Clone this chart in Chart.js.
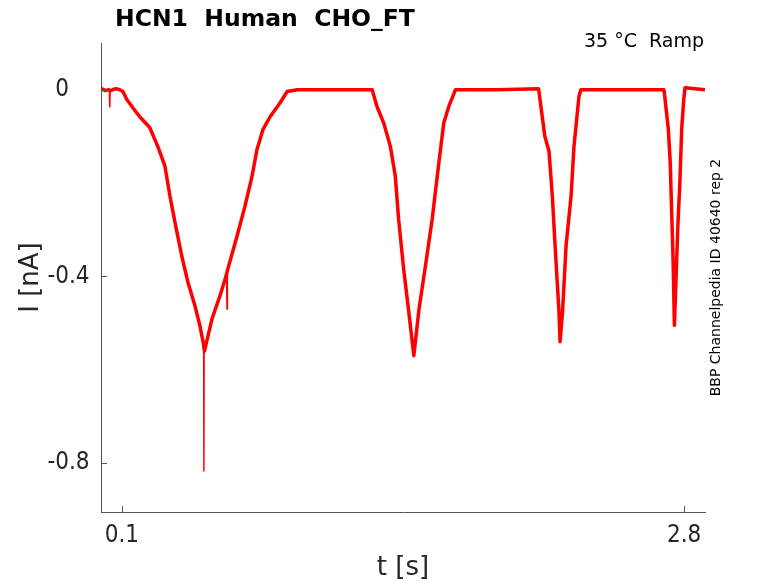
<!DOCTYPE html>
<html>
<head>
<meta charset="utf-8">
<script src="https://cdn.jsdelivr.net/npm/chart.js@4.4.1/dist/chart.umd.min.js"></script>
<style>
  html, body { margin: 0; padding: 0; background: #fff; }
</style>
</head>
<body>
<canvas id="chart" width="778" height="583"></canvas>
<script>
// trace, t in seconds, I in nA
const timeS = [
  0.000, 0.020, 0.038, 0.046, 0.070, 0.090, 0.105, 0.124, 0.155,
  0.186, 0.234, 0.273, 0.307, 0.331, 0.355, 0.388, 0.417, 0.451, 0.475,
  0.490, 0.497, 0.502, 0.533, 0.571, 0.600, 0.609, 0.653,
  0.691, 0.725, 0.749, 0.778, 0.812, 0.860, 0.894, 0.942, 1.100, 1.302,
  1.325, 1.357, 1.389, 1.413, 1.429, 1.453, 1.478, 1.502, 1.527, 1.558,
  1.590, 1.622, 1.646, 1.670, 1.702, 1.900, 2.101, 2.131, 2.151, 2.167,
  2.183, 2.199, 2.204, 2.216, 2.233, 2.257, 2.271, 2.295, 2.304, 2.500,
  2.703, 2.712, 2.724, 2.733, 2.740, 2.747, 2.753, 2.761, 2.769, 2.780,
  2.788, 2.798, 2.804, 2.900,
];
const currentNA = [
  0.003, -0.002, 0.000, -0.002, 0.002, 0.000, -0.004, -0.021, -0.040,
  -0.058, -0.081, -0.122, -0.164, -0.228, -0.284, -0.357, -0.412, -0.463, -0.506,
  -0.540, -0.560, -0.550, -0.491, -0.442, -0.400, -0.384, -0.314,
  -0.250, -0.186, -0.128, -0.085, -0.058, -0.028, -0.004, 0.000, 0.000, 0.000,
  -0.036, -0.071, -0.121, -0.185, -0.278, -0.384, -0.477, -0.570, -0.470, -0.377,
  -0.278, -0.157, -0.071, -0.036, 0.000, 0.000, 0.002, -0.100, -0.132, -0.228,
  -0.356, -0.476, -0.540, -0.476, -0.334, -0.228, -0.121, -0.014, 0.000, 0.000,
  0.000, -0.036, -0.085, -0.156, -0.263, -0.369, -0.505, -0.406, -0.299, -0.192,
  -0.085, -0.021, 0.004, 0.000,
];

// narrow single-sample artefacts, drawn thin (null breaks between them)
const spikeTimeS = [0.040, 0.042, 0.044, null, 0.493, 0.494, 0.495, null, 0.603, 0.605, 0.607];
const spikeCurrentNA = [0.000, -0.038, 0.000, null, -0.550, -0.818, -0.560, null, -0.405, -0.470, -0.395];

const xTicks = [0.1, 2.8];
const xTickLabels = ['0.1', '2.8'];
const yTicks = [0, -0.4, -0.8];
const yTickLabels = ['0', '-0.4', '-0.8'];

const TEXT_COLOR = '#262626';
const AXIS_COLOR = '#555555';
const TICK_FONT = '24px "DejaVu Sans Condensed", "DejaVu Sans", sans-serif';
const LABEL_FONT = '26px "DejaVu Sans", sans-serif';

// MATLAB-like decorations: inward ticks, decimal aligned labels, titles
const decorations = {
  id: 'decorations',
  afterDraw(chart) {
    const { ctx, chartArea, scales } = chart;
    const { x, y } = scales;

    ctx.save();
    ctx.strokeStyle = AXIS_COLOR;
    ctx.lineWidth = 1;
    ctx.beginPath();
    xTicks.forEach((v) => {
      const px = Math.round(x.getPixelForValue(v)) + 0.5;
      ctx.moveTo(px, chartArea.bottom);
      ctx.lineTo(px, chartArea.bottom - 6);
    });
    yTicks.forEach((v) => {
      const py = Math.round(y.getPixelForValue(v)) + 0.5;
      ctx.moveTo(chartArea.left, py);
      ctx.lineTo(chartArea.left + 6, py);
    });
    ctx.stroke();

    ctx.fillStyle = TEXT_COLOR;
    ctx.font = TICK_FONT;
    ctx.textAlign = 'center';
    ctx.textBaseline = 'alphabetic';
    xTicks.forEach((v, i) => {
      ctx.fillText(xTickLabels[i], x.getPixelForValue(v), chartArea.bottom + 30);
    });

    // labels line up on the integer digit
    const alignX = chartArea.left - 32;
    ctx.textAlign = 'left';
    ctx.textBaseline = 'middle';
    yTicks.forEach((v, i) => {
      const label = yTickLabels[i];
      const intPart = label.split('.')[0];
      const w = ctx.measureText(intPart).width;
      ctx.fillText(label, alignX - w, y.getPixelForValue(v));
    });

    ctx.font = LABEL_FONT;
    ctx.textAlign = 'center';
    ctx.textBaseline = 'alphabetic';
    ctx.fillText('t [s]', (chartArea.left + chartArea.right) / 2, 575);

    ctx.save();
    ctx.translate(38, (chartArea.top + chartArea.bottom) / 2);
    ctx.rotate(-Math.PI / 2);
    ctx.fillText('I [nA]', 0, 0);
    ctx.restore();

    ctx.fillStyle = '#000';
    ctx.font = 'bold 23.5px "DejaVu Sans", sans-serif';
    ctx.textAlign = 'left';
    ctx.fillText('HCN1  Human  CHO_FT', 115, 26);

    ctx.font = '19px "DejaVu Sans", sans-serif';
    ctx.textAlign = 'right';
    ctx.fillText('35 °C  Ramp', chartArea.right - 1, 47);

    ctx.save();
    ctx.translate(716, (chartArea.top + chartArea.bottom) / 2);
    ctx.rotate(-Math.PI / 2);
    ctx.font = '14px "DejaVu Sans", sans-serif';
    ctx.textAlign = 'center';
    ctx.textBaseline = 'middle';
    ctx.fillText('BBP Channelpedia ID 40640 rep 2', 0, 0);
    ctx.restore();

    ctx.restore();
  },
};

new Chart(document.getElementById('chart'), {
  type: 'line',
  data: {
    datasets: [{
      data: timeS.map((t, i) => ({ x: t, y: currentNA[i] })),
      borderColor: '#ff0000',
      borderWidth: 3.5,
      borderJoinStyle: 'round',
      pointRadius: 0,
      fill: false,
      tension: 0,
    }, {
      data: spikeTimeS.map((t, i) => ({ x: t, y: spikeCurrentNA[i] })),
      borderColor: '#ff0000',
      borderWidth: 1.5,
      pointRadius: 0,
      fill: false,
      spanGaps: false,
      tension: 0,
    }],
  },
  options: {
    responsive: false,
    animation: false,
    layout: { padding: { left: 0, right: 73, top: 43, bottom: 0 } },
    plugins: {
      legend: { display: false },
      tooltip: { enabled: false },
    },
    scales: {
      x: {
        type: 'linear',
        min: 0,
        max: 2.9,
        grid: { display: false },
        border: { display: true, color: AXIS_COLOR, width: 1 },
        ticks: { display: false },
        afterBuildTicks: (scale) => { scale.ticks = xTicks.map((value) => ({ value })); },
        afterFit: (scale) => { scale.height = 71; },
      },
      y: {
        type: 'linear',
        min: -0.905,
        max: 0.1,
        grid: { display: false },
        border: { display: true, color: AXIS_COLOR, width: 1 },
        ticks: { display: false },
        afterBuildTicks: (scale) => { scale.ticks = yTicks.map((value) => ({ value })); },
        afterFit: (scale) => { scale.width = 101; },
      },
    },
  },
  plugins: [decorations],
});
</script>
</body>
</html>
